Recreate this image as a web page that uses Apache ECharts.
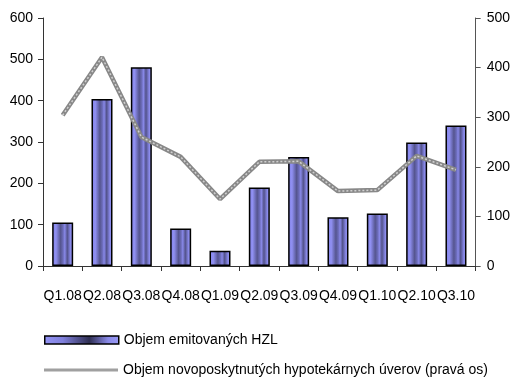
<!DOCTYPE html>
<html>
<head>
<meta charset="utf-8">
<script src="https://cdn.jsdelivr.net/npm/echarts@6/dist/echarts.min.js"></script>
<style>
  html, body { margin: 0; padding: 0; background: #fff; }
  #chart { width: 513px; height: 377px; }
</style>
</head>
<body>
<div id="chart"></div>
<script>
// Quarterly categories
const quarters = ['Q1.08', 'Q2.08', 'Q3.08', 'Q4.08', 'Q1.09', 'Q2.09', 'Q3.09', 'Q4.09', 'Q1.10', 'Q2.10', 'Q3.10'];
// Issued mortgage bonds (left axis)
const hzlVolume = [105, 404, 481, 91, 37, 190, 264, 118, 127, 299, 340];
// Newly granted mortgage loans (right axis)
const loanVolume = [304, 421, 260, 220, 135, 210, 211, 151, 153, 222, 194];

const seriesNames = ['Objem emitovaných HZL', 'Objem novoposkytnutých hypotekárnych úverov (pravá os)'];

const font = 'Liberation Sans, Arial, sans-serif';
const fontSize = 14;

const barFill = new echarts.graphic.LinearGradient(0, 0, 1, 0, [
  { offset: 0, color: '#8282e8' },
  { offset: 0.18, color: '#9090f2' },
  { offset: 0.4, color: '#55558f' },
  { offset: 0.52, color: '#6c6cba' },
  { offset: 0.6, color: '#8888e8' },
  { offset: 0.72, color: '#52528a' },
  { offset: 0.88, color: '#8a8aec' },
  { offset: 1, color: '#9a9af6' }
]);

const legendFill = new echarts.graphic.LinearGradient(0, 0, 1, 0, [
  { offset: 0, color: '#9494f6' },
  { offset: 0.25, color: '#8080dc' },
  { offset: 0.6, color: '#2e2e52' },
  { offset: 0.85, color: '#8a8ae8' },
  { offset: 1, color: '#9a9af6' }
]);

const legendText = { fontSize: fontSize, color: '#000', fontFamily: font };

const chart = echarts.init(document.getElementById('chart'), null, { renderer: 'canvas' });

chart.setOption({
  animation: false,
  backgroundColor: '#ffffff',
  textStyle: { fontFamily: font },
  grid: { left: 43, right: 35, top: 18, bottom: 111 },
  legend: [
    {
      data: [{ name: seriesNames[0], icon: 'rect', itemStyle: { color: legendFill, borderColor: '#000', borderWidth: 1.5 } }],
      left: 39,
      top: 328,
      itemWidth: 74,
      itemHeight: 8,
      itemGap: 4,
      textStyle: legendText,
      selectedMode: false
    },
    {
      data: [{ name: seriesNames[1], icon: 'rect', itemStyle: { color: '#a0a0a0', borderWidth: 0 } }],
      left: 39,
      top: 358,
      itemWidth: 74,
      itemHeight: 3,
      itemGap: 4,
      textStyle: legendText,
      selectedMode: false
    }
  ],
  xAxis: {
    type: 'category',
    data: quarters,
    boundaryGap: true,
    axisLine: { lineStyle: { color: '#333', width: 1 } },
    axisTick: { show: true, alignWithLabel: false, length: 5, lineStyle: { color: '#333' } },
    axisLabel: { color: '#000', fontSize: fontSize, margin: 23, interval: 0, fontFamily: font },
    splitLine: { show: false }
  },
  yAxis: [
    {
      type: 'value',
      min: 0, max: 600, interval: 100,
      axisLine: { show: true, lineStyle: { color: '#333' } },
      axisTick: { show: true, length: 5, lineStyle: { color: '#333' } },
      axisLabel: { color: '#000', fontSize: fontSize, margin: 10, fontFamily: font },
      splitLine: { show: false }
    },
    {
      type: 'value',
      min: 0, max: 500, interval: 100,
      position: 'right',
      axisLine: { show: true, lineStyle: { color: '#555' } },
      axisTick: { show: true, inside: false, length: 5, lineStyle: { color: '#555' } },
      axisLabel: { color: '#000', fontSize: fontSize, margin: 11, fontFamily: font },
      splitLine: { show: false }
    }
  ],
  series: [
    {
      name: seriesNames[0],
      type: 'bar',
      data: hzlVolume,
      yAxisIndex: 0,
      barWidth: 21,
      itemStyle: { color: barFill, borderColor: '#000', borderWidth: 1.5 }
    },
    {
      name: seriesNames[1],
      type: 'line',
      data: loanVolume,
      yAxisIndex: 1,
      symbol: 'none',
      lineStyle: { color: '#888888', width: 4.5 },
      z: 3
    },
    {
      // light hatch running along the centre of the loan line
      name: 'hatch',
      type: 'line',
      data: loanVolume,
      yAxisIndex: 1,
      symbol: 'none',
      lineStyle: { color: '#d0d0d0', width: 1.5, type: [2, 2] },
      z: 4,
      silent: true
    }
  ]
});
</script>
</body>
</html>
